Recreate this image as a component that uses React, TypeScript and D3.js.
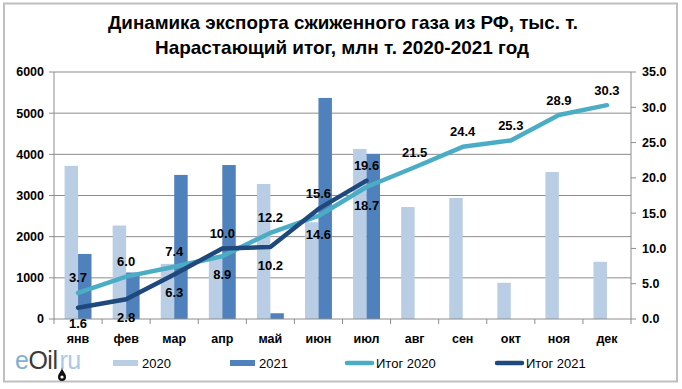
import React from 'react';
import * as d3 from 'd3';

const months = ['янв', 'фев', 'мар', 'апр', 'май', 'июн', 'июл', 'авг', 'сен', 'окт', 'ноя', 'дек'];
const exports2020 = [3720, 2270, 1340, 1500, 3280, 2350, 4130, 2720, 2940, 880, 3570, 1390];
const exports2021 = [1580, 1130, 3500, 3740, 140, 5370, 4010];
const total2020 = [3.7, 6.0, 7.4, 8.9, 12.2, 14.6, 18.7, 21.5, 24.4, 25.3, 28.9, 30.3];
const total2021 = [1.6, 2.8, 6.3, 10.0, 10.2, 15.6, 19.6];
const total2020Below = [false, false, false, true, false, true, true, false, false, false, false, false];
const total2021Below = [true, true, true, false, true, false, false];
const leftTicks = [0, 1000, 2000, 3000, 4000, 5000, 6000];
const rightTicks = [0, 5, 10, 15, 20, 25, 30, 35];
const titleLines = ['Динамика экспорта сжиженного газа из РФ, тыс. т.', 'Нарастающий итог, млн  т. 2020-2021 год'];
const legendLabels = ['2020', '2021', 'Итог 2020', 'Итог 2021'];

const C_LIGHT = '#B9CDE5';
const C_DARK = '#4F81BD';
const C_L2020 = '#4BACC6';
const C_L2021 = '#1F497D';
const GRID = '#8C8C8C';
const FONT = '"Liberation Sans", Arial, sans-serif';

export default function App() {
  const W = 682, H = 389;
  const left = 54, right = 631, top = 72, bottom = 319;
  const x = d3.scaleBand<string>().domain(months).range([left, right]);
  const bw = x.bandwidth();
  const yL = d3.scaleLinear().domain([0, 6000]).range([bottom, top]);
  const yR = d3.scaleLinear().domain([0, 35]).range([bottom, top]);
  const cx = (i: number) => (x(months[i]) as number) + bw / 2;
  const line = d3.line<number>().x((_, i) => cx(i)).y((d) => yR(d));

  return (
    <svg width={W} height={H} style={{ position: 'absolute', left: 0, top: 0, background: '#fff' }} fontFamily={FONT}>
      <rect x={0} y={0} width={W} height={H} fill="#fff" />
      <rect x={4} y={3.5} width={673} height={378} fill="none" stroke="#BFBFBF" strokeWidth={2} />
      {/* title */}
      <text x={343} y={29} textAnchor="middle" fontSize={18.5} fontWeight="bold" textLength={470} lengthAdjust="spacingAndGlyphs">{titleLines[0]}</text>
      <text x={342} y={54} textAnchor="middle" fontSize={18.5} fontWeight="bold" textLength={374} lengthAdjust="spacingAndGlyphs">{titleLines[1]}</text>

      {/* grid */}
      {leftTicks.filter((t) => t > 0).map((t) => (
        <line key={'g' + t} x1={left} x2={right} y1={yL(t)} y2={yL(t)} stroke={GRID} strokeWidth={1} />
      ))}

      {/* bars */}
      {exports2020.map((v, i) => (
        <rect key={'a' + i} x={(x(months[i]) as number) + bw * 0.22} y={yL(v)} width={bw * 0.28} height={bottom - yL(v)} fill={C_LIGHT} />
      ))}
      {exports2021.map((v, i) => (
        <rect key={'b' + i} x={(x(months[i]) as number) + bw * 0.5} y={yL(v)} width={bw * 0.28} height={bottom - yL(v)} fill={C_DARK} />
      ))}

      {/* axes */}
      <line x1={left} x2={left} y1={top} y2={bottom} stroke={GRID} />
      <line x1={right} x2={right} y1={top} y2={bottom} stroke={GRID} />
      <line x1={left} x2={right} y1={bottom} y2={bottom} stroke={GRID} />
      {leftTicks.map((t) => (
        <g key={'lt' + t}>
          <line x1={left - 5} x2={left} y1={yL(t)} y2={yL(t)} stroke={GRID} />
          <text x={44} y={yL(t)} dy="0.35em" textAnchor="end" fontSize={12.5} fontWeight="bold">{t}</text>
        </g>
      ))}
      {rightTicks.map((t) => (
        <g key={'rt' + t}>
          <line x1={right} x2={right + 5} y1={yR(t)} y2={yR(t)} stroke={GRID} />
          <text x={642} y={yR(t)} dy="0.35em" textAnchor="start" fontSize={12.5} fontWeight="bold">{t.toFixed(1)}</text>
        </g>
      ))}
      {months.map((m, i) => (
        <line key={'xt' + i} x1={x(m) as number} x2={x(m) as number} y1={bottom} y2={bottom + 5} stroke={GRID} />
      ))}
      <line x1={right} x2={right} y1={bottom} y2={bottom + 5} stroke={GRID} />
      {months.map((m, i) => (
        <text key={'xl' + i} x={cx(i)} y={339} dy="0.35em" textAnchor="middle" fontSize={12.5} fontWeight="bold">{m}</text>
      ))}

      {/* lines */}
      <path d={line(total2020) as string} fill="none" stroke={C_L2020} strokeWidth={4.5} strokeLinejoin="round" strokeLinecap="round" />
      <path d={line(total2021) as string} fill="none" stroke={C_L2021} strokeWidth={4.5} strokeLinejoin="round" strokeLinecap="round" />

      {/* labels */}
      {total2020.map((v, i) => (
        <text key={'l20' + i} x={cx(i)} y={yR(v) + (total2020Below[i] ? 18 : -15)} dy="0.35em" textAnchor="middle" fontSize={13} fontWeight="bold">{v.toFixed(1)}</text>
      ))}
      {total2021.map((v, i) => (
        <text key={'l21' + i} x={cx(i)} y={yR(v) + (total2021Below[i] ? (i === 0 ? 16 : 18) : -15)} dy="0.35em" textAnchor="middle" fontSize={13} fontWeight="bold">{v.toFixed(1)}</text>
      ))}

      {/* legend */}
      <rect x={113} y={360} width={25} height={6} fill={C_LIGHT} />
      <text x={142} y={363} dy="0.35em" fontSize={13}>{legendLabels[0]}</text>
      <rect x={230} y={360} width={25} height={6} fill={C_DARK} />
      <text x={259} y={363} dy="0.35em" fontSize={13}>{legendLabels[1]}</text>
      <line x1={347} x2={372} y1={363} y2={363} stroke={C_L2020} strokeWidth={4.5} strokeLinecap="round" />
      <text x={376} y={363} dy="0.35em" fontSize={13}>{legendLabels[2]}</text>
      <line x1={497} x2={522} y1={363} y2={363} stroke={C_L2021} strokeWidth={4.5} strokeLinecap="round" />
      <text x={526} y={363} dy="0.35em" fontSize={13}>{legendLabels[3]}</text>

      {/* logo */}
      <text x={15} y={369} fontSize={25} letterSpacing={-0.5}>
        <tspan fill="#7FAFD6">e</tspan>
        <tspan fill="#3a3a3a">Oil</tspan>
        <tspan fill="#A9C9E8" dx={2}>ru</tspan>
      </text>
      <path d="M62,367 C62,371 58,373 58,377 A4,4 0 0 0 66,377 C66,373 62,371 62,367 Z" fill="#111" />
      <circle cx={62} cy={377} r={1.6} fill="#fff" />
    </svg>
  );
}
